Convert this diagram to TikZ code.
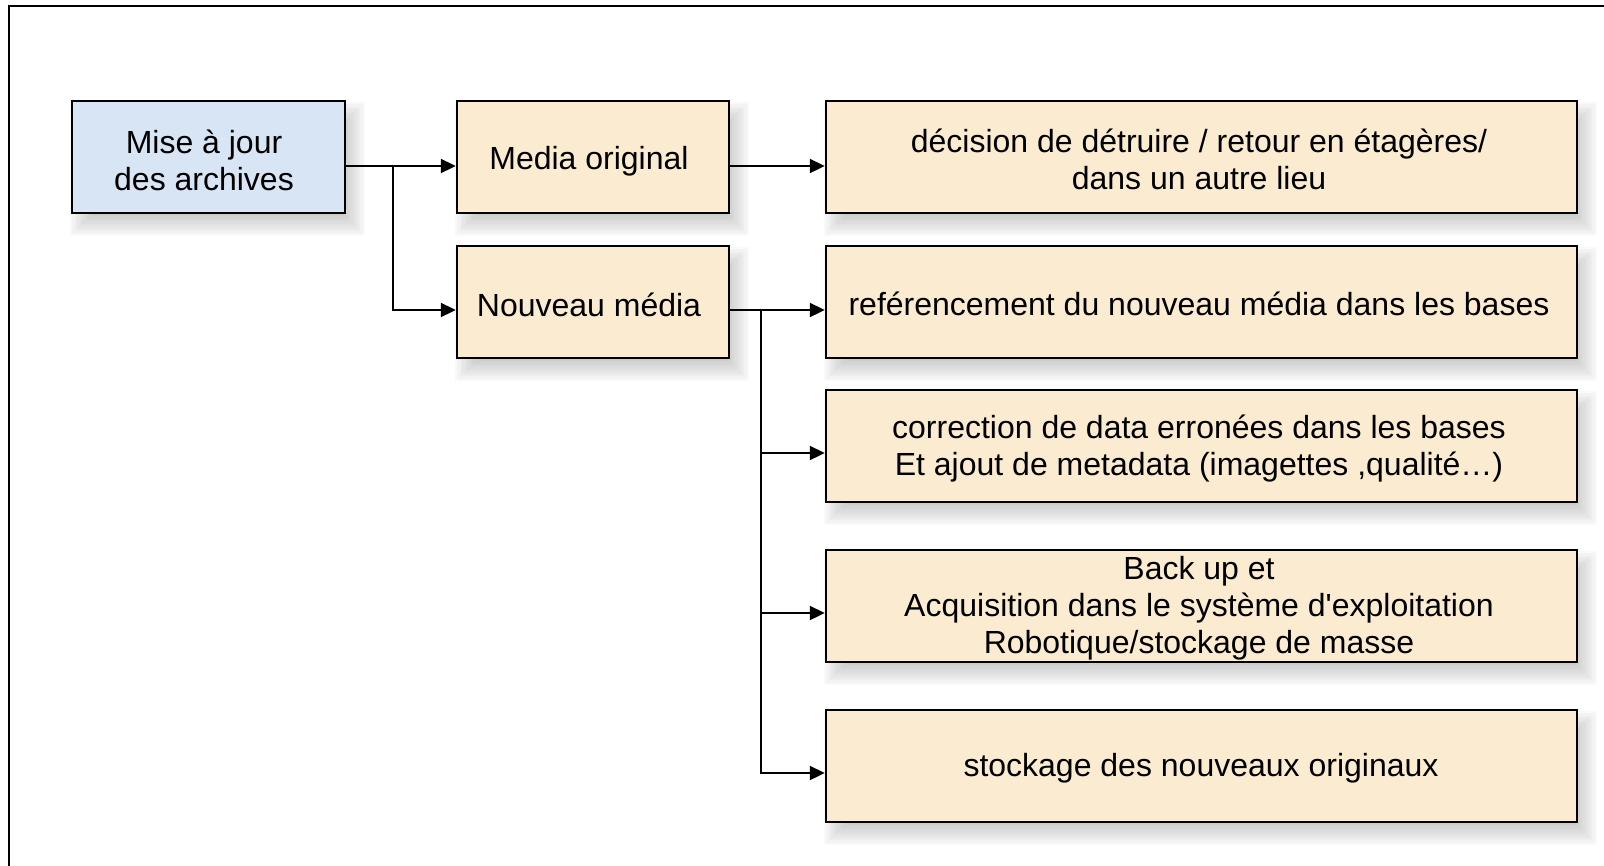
\documentclass[tikz,border=0pt]{standalone}
\usepackage{fontspec}
\setmainfont{Liberation Sans}[Ligatures=TeXOff]
\usetikzlibrary{arrows.meta}
\pgfdeclarelayer{bg}
\pgfsetlayers{bg,main}
\definecolor{boxblue}{RGB}{216,229,245}
\definecolor{boxbeige}{RGB}{251,236,209}
\tikzset{
  box/.style={draw=black, line width=2.5pt, rectangle, inner sep=0pt},
  bluebox/.style={box, fill=boxblue},
  beigebox/.style={box, fill=boxbeige},
  txt/.style={align=center, font=\fontsize{32}{37}\selectfont},
  conn/.style={line width=2.3pt, -{Triangle[length=15pt,width=14pt]}},
  plain/.style={line width=2.3pt},
  shadowlayer/.style={fill=black, opacity=0.022},
}
\newcommand\softshadow[1]{%
  \foreach \d in {-10,-7.5,...,10} {%
    \fill[shadowlayer] ([xshift=9pt+\d pt, yshift=-12pt-\d pt]#1.north west)
      rectangle ([xshift=9pt-\d pt, yshift=-12pt+\d pt]#1.south east);
  }%
}
\begin{document}
\begin{tikzpicture}[x=1pt,y=-1pt]
\useasboundingbox (0,0) rectangle (1604,865);
\draw[line width=2.5pt] (9,866) -- (9,6) -- (1605,6);
% boxes
\node[bluebox, minimum width=273pt, minimum height=112pt] (a) at (208.5,157) {};
\node[txt] (ta) at (204,160) {Mise à jour\\des archives};
\node[beigebox, minimum width=272pt, minimum height=112pt] (mo) at (593,157) {};
\node[txt] (tmo) at (589,161) {Media original};
\node[beigebox, minimum width=272pt, minimum height=112pt] (nm) at (593,302) {};
\node[txt] (tnm) at (589,305) {Nouveau média};
\node[beigebox, minimum width=751pt, minimum height=112pt] (r1) at (1201.5,157) {};
\node[txt] (tr1) at (1199,159) {décision de détruire / retour en étagères/\\dans un autre lieu};
\node[beigebox, minimum width=751pt, minimum height=112pt] (r2) at (1201.5,302) {};
\node[txt] (tr2) at (1199,304) {reférencement du nouveau média dans les bases};
\node[beigebox, minimum width=751pt, minimum height=112pt] (r3) at (1201.5,446) {};
\node[txt] (tr3) at (1199,449) {correction de data erronées dans les bases\\Et ajout de metadata (imagettes ,qualité…)};
\node[beigebox, minimum width=751pt, minimum height=112pt] (r4) at (1201.5,606) {};
\node[txt] (tr4) at (1199,608) {Back up et\\Acquisition dans le système d'exploitation\\Robotique/stockage de masse};
\node[beigebox, minimum width=751pt, minimum height=112pt] (r5) at (1201.5,766) {};
\node[txt] (tr5) at (1201,768) {stockage des nouveaux originaux};
\begin{pgfonlayer}{bg}
\softshadow{a}\softshadow{mo}\softshadow{nm}
\softshadow{r1}\softshadow{r2}\softshadow{r3}\softshadow{r4}\softshadow{r5}
\end{pgfonlayer}
% junctions
\coordinate (j1) at (393,166);
\coordinate (j2) at (761,310);
% connectors
\draw[plain] ([yshift=-9pt]a.east) -- (j1);
\draw[conn] (j1) -- ([yshift=-9pt]mo.west);
\draw[conn] (j1) |- ([yshift=-8pt]nm.west);
\draw[conn] ([yshift=-9pt]mo.east) -- ([yshift=-9pt]r1.west);
\draw[plain] ([yshift=-8pt]nm.east) -- (j2);
\draw[conn] (j2) -- ([yshift=-8pt]r2.west);
\draw[conn] (j2) |- ([yshift=-7pt]r3.west);
\draw[conn] (j2) |- ([yshift=-7pt]r4.west);
\draw[conn] (j2) |- ([yshift=-7pt]r5.west);
\end{tikzpicture}
\end{document}
